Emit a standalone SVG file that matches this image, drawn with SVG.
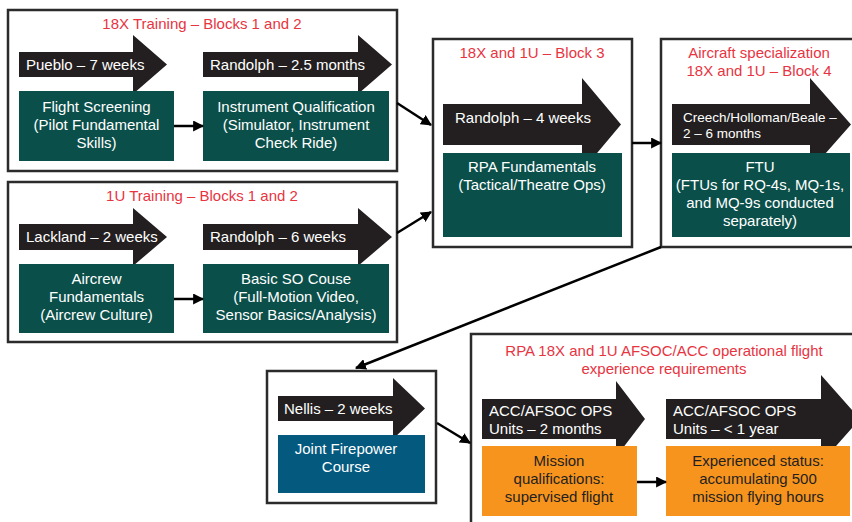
<svg xmlns="http://www.w3.org/2000/svg" width="852" height="522" viewBox="0 0 852 522">
<defs>
<style>
text{font-family:"Liberation Sans",Arial,sans-serif;font-size:15px}
.frame{fill:#fff;stroke:#2b2b2b;stroke-width:2.5}
.title{fill:#e8343f;text-anchor:middle}
.arrow{fill:#231f20}
.atext{fill:#fff}
.green{fill:#0b4f4a}
.blue{fill:#03597e}
.orange{fill:#f7941d}
.gtext{fill:#fff;text-anchor:middle}
.otext{fill:#231f20;text-anchor:middle}
.conn{stroke:#000;stroke-width:2.5;fill:none;marker-end:url(#ah)}
</style>
<marker id="ah" viewBox="0 0 10 10" refX="9" refY="5" markerWidth="4.4" markerHeight="4.4" markerUnits="strokeWidth" orient="auto">
<path d="M0,0 L10,5 L0,10 z" fill="#000"/>
</marker>
</defs>
<rect width="852" height="522" fill="#fff"/>

<g id="block1">
<rect class="frame" x="8" y="10" width="389" height="161"/>
<text class="title" x="202" y="29">18X Training – Blocks 1 and 2</text>
<polygon class="arrow" points="19,52 133,52 133,35 167,64.5 133,94 133,77 19,77"/>
<text class="atext" x="26" y="70">Pueblo – 7 weeks</text>
<rect class="green" x="19" y="91" width="155" height="70"/>
<text class="gtext" x="96.5" y="112">Flight Screening</text>
<text class="gtext" x="96.5" y="130">(Pilot Fundamental</text>
<text class="gtext" x="96.5" y="148">Skills)</text>
<polygon class="arrow" points="203,52 358,52 358,35 392,64.5 358,94 358,77 203,77"/>
<text class="atext" x="210" y="70">Randolph – 2.5 months</text>
<rect class="green" x="203" y="91" width="186" height="70"/>
<text class="gtext" x="296" y="112">Instrument Qualification</text>
<text class="gtext" x="296" y="130">(Simulator, Instrument</text>
<text class="gtext" x="296" y="148">Check Ride)</text>
</g>

<g id="block2">
<rect class="frame" x="8" y="182" width="389" height="160"/>
<text class="title" x="202" y="201">1U Training – Blocks 1 and 2</text>
<polygon class="arrow" points="19,224 133,224 133,208 167,237 133,266 133,250 19,250"/>
<text class="atext" x="26" y="242">Lackland – 2 weeks</text>
<rect class="green" x="19" y="264" width="155" height="69"/>
<text class="gtext" x="96.5" y="284">Aircrew</text>
<text class="gtext" x="96.5" y="302">Fundamentals</text>
<text class="gtext" x="96.5" y="320">(Aircrew Culture)</text>
<polygon class="arrow" points="203,224 358,224 358,208 392,237 358,266 358,250 203,250"/>
<text class="atext" x="210" y="242">Randolph – 6 weeks</text>
<rect class="green" x="203" y="264" width="186" height="69"/>
<text class="gtext" x="296" y="284">Basic SO Couse</text>
<text class="gtext" x="296" y="302">(Full-Motion Video,</text>
<text class="gtext" x="296" y="320">Sensor Basics/Analysis)</text>
</g>

<g id="block3">
<rect class="frame" x="433" y="39" width="199" height="208"/>
<text class="title" x="532" y="58">18X and 1U – Block 3</text>
<polygon class="arrow" points="443,104 582,104 582,78 621,124.5 582,171 582,145 443,145"/>
<text class="atext" x="455" y="123">Randolph – 4 weeks</text>
<rect class="green" x="443" y="153" width="179" height="84"/>
<text class="gtext" x="532" y="172">RPA Fundamentals</text>
<text class="gtext" x="532" y="190">(Tactical/Theatre Ops)</text>
</g>

<g id="block4">
<rect class="frame" x="661" y="39" width="196" height="208"/>
<text class="title" x="759" y="58">Aircraft specialization</text>
<text class="title" x="759" y="76">18X and 1U – Block 4</text>
<polygon class="arrow" points="672,104 810,104 810,78 851,124.5 810,171 810,145 672,145"/>
<text class="atext" x="683" y="122" style="font-size:13.5px">Creech/Holloman/Beale –</text>
<text class="atext" x="683" y="138" style="font-size:13.5px">2 – 6 months</text>
<rect class="green" x="672" y="153" width="178" height="84"/>
<text class="gtext" x="760" y="172">FTU</text>
<text class="gtext" x="760" y="190">(FTUs for RQ-4s, MQ-1s,</text>
<text class="gtext" x="760" y="208">and MQ-9s conducted</text>
<text class="gtext" x="760" y="226">separately)</text>
</g>

<g id="nellis">
<rect class="frame" x="267" y="371" width="169" height="132"/>
<polygon class="arrow" points="278,396 393,396 393,378 425,408.5 393,439 393,421 278,421"/>
<text class="atext" x="284" y="414">Nellis – 2 weeks</text>
<rect class="blue" x="278" y="435" width="147" height="58"/>
<text class="gtext" x="346" y="454">Joint Firepower</text>
<text class="gtext" x="346" y="472">Course</text>
</g>

<g id="operational">
<rect class="frame" x="471" y="334" width="390" height="200"/>
<text class="title" x="664" y="356">RPA 18X and 1U AFSOC/ACC operational flight</text>
<text class="title" x="664" y="374">experience requirements</text>
<polygon class="arrow" points="482,399 616,399 616,381 645,419 616,457 616,439 482,439"/>
<text class="atext" x="489" y="416">ACC/AFSOC OPS</text>
<text class="atext" x="489" y="434">Units – 2 months</text>
<rect class="orange" x="482" y="446" width="155" height="70"/>
<text class="otext" x="559" y="466">Mission</text>
<text class="otext" x="559" y="484">qualifications:</text>
<text class="otext" x="559" y="502">supervised flight</text>
<polygon class="arrow" points="666,399 821,399 821,375 860,419 821,463 821,439 666,439"/>
<text class="atext" x="673" y="416">ACC/AFSOC OPS</text>
<text class="atext" x="673" y="434">Units – &lt; 1 year</text>
<rect class="orange" x="666" y="446" width="184" height="70"/>
<text class="otext" x="758" y="466">Experienced status:</text>
<text class="otext" x="758" y="484">accumulating 500</text>
<text class="otext" x="758" y="502">mission flying hours</text>
</g>

<g id="connectors">
<line class="conn" x1="174" y1="126" x2="203" y2="126"/>
<line class="conn" x1="174" y1="299" x2="203" y2="299"/>
<line class="conn" x1="397" y1="103" x2="431" y2="125"/>
<line class="conn" x1="397" y1="233" x2="431" y2="212"/>
<line class="conn" x1="632" y1="143" x2="661" y2="143"/>
<line class="conn" x1="661" y1="247" x2="356" y2="368"/>
<line class="conn" x1="437" y1="423" x2="470" y2="443"/>
<line class="conn" x1="637" y1="482" x2="666" y2="482"/>
</g>
</svg>
